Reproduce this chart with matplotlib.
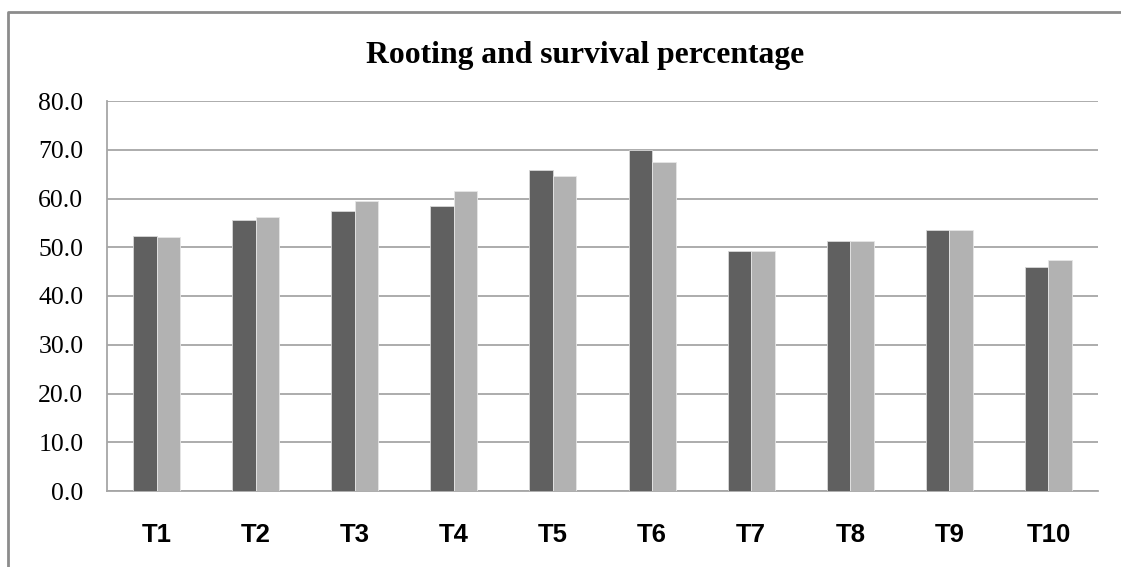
import matplotlib
matplotlib.use("Agg")
import matplotlib.pyplot as plt
import numpy as np
from matplotlib.lines import Line2D

categories = ["T1", "T2", "T3", "T4", "T5", "T6", "T7", "T8", "T9", "T10"]
rooting = [52.4, 55.6, 57.5, 58.5, 65.8, 70.0, 49.3, 51.2, 53.5, 46.0]
survival = [52.1, 56.2, 59.5, 61.5, 64.7, 67.5, 49.3, 51.2, 53.5, 47.4]
yticks = [0, 10, 20, 30, 40, 50, 60, 70, 80]
title = "Rooting and survival percentage"

W, H = 1121, 567
fig = plt.figure(figsize=(W / 100, H / 100), dpi=100)

# outer chart border (left and top edges visible)
bx, by = 8 / W, 1 - 12 / H
fig.lines.append(Line2D([bx, bx, 1.01], [-0.01, by, by], transform=fig.transFigure,
                        color="#8c8c8c", linewidth=2.0))

left, right, top, bottom = 107, 1098, 101, 491
ax = fig.add_axes([left / W, 1 - bottom / H, (right - left) / W, (bottom - top) / H])

x = np.arange(len(categories))
bw = 0.237
ax.bar(x - bw / 2, rooting, bw, color="#606060", edgecolor="#d8d8d8", linewidth=0.6, zorder=3)
ax.bar(x + bw / 2, survival, bw, color="#b2b2b2", edgecolor="#e6e6e6", linewidth=0.6, zorder=3)

ax.set_xlim(-0.5, len(categories) - 0.5)
ax.set_ylim(0, 80)
ax.set_yticks(yticks)
ax.set_yticklabels([f"{v:.1f}" for v in yticks], family="Liberation Serif", fontsize=18.5)
ax.set_xticks(x)
ax.set_xticklabels(categories, family="Liberation Sans", fontweight="bold", fontsize=18.5)
ax.tick_params(axis="x", length=0, pad=23)
ax.tick_params(axis="y", length=0, pad=17)
ax.grid(axis="y", color="#a6a6a6", linewidth=1.3, zorder=0)
for s in ["top", "right"]:
    ax.spines[s].set_visible(False)
ax.spines["left"].set_color("#a6a6a6")
ax.spines["bottom"].set_color("#a6a6a6")
ax.spines["left"].set_linewidth(1.3)
ax.spines["bottom"].set_linewidth(1.3)

fig.text(585 / W, 1 - 55 / H, title, ha="center", va="center",
         family="Liberation Serif", fontweight="bold", fontsize=22.8)

fig.savefig("out.png", dpi=100)
